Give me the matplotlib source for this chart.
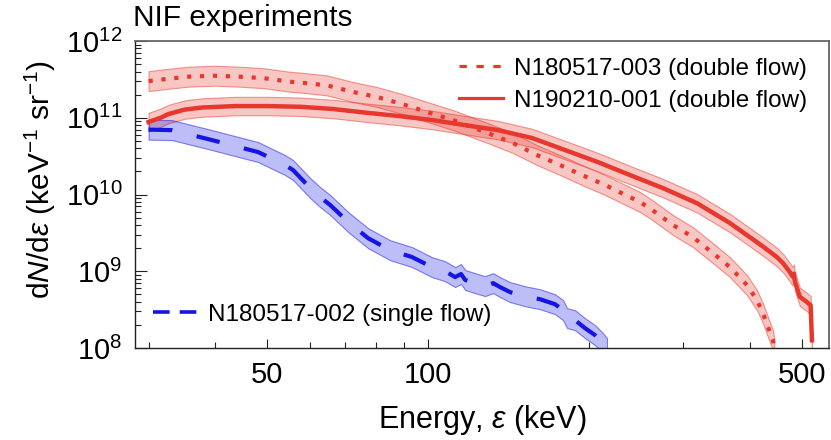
import matplotlib
matplotlib.use("Agg")
import matplotlib.pyplot as plt
import numpy as np
from matplotlib.colors import to_rgba
from matplotlib.lines import Line2D
from matplotlib.ticker import FixedFormatter, FixedLocator, LogLocator, NullFormatter

plt.rcParams["font.family"] = ["Liberation Sans", "DejaVu Sans"]
plt.rcParams["mathtext.fontset"] = "custom"
plt.rcParams["mathtext.rm"] = "Liberation Sans"
plt.rcParams["mathtext.it"] = "Liberation Sans:italic"
plt.rcParams["mathtext.bf"] = "Liberation Sans:bold"

# ---- spectra: energy (keV) vs dN/de (keV^-1 sr^-1) -------------------------
e_003 = [30.0, 32.0, 35.6, 39.8, 44.3, 49.4, 55.0, 58.1, 64.7, 72.1, 80.3,
         89.4, 99.6, 111.4, 129.4, 144.1, 159.9, 176.5, 194.1, 214.2, 236.5,
         249.0, 262.3, 287.1, 312.8, 341.0, 366.9, 394.8, 412.1, 422.9, 432.1,
         441.5, 444.0]
n_003 = [3.0e11, 3.17e11, 3.43e11, 3.53e11, 3.43e11, 3.27e11, 2.95e11,
         2.86e11, 2.64e11, 2.18e11, 1.86e11, 1.51e11, 1.19e11, 9.3e10, 6.3e10,
         4.68e10, 3.26e10, 2.42e10, 1.79e10, 1.33e10, 9.5e9, 8.0e9, 6.3e9,
         4.0e9, 2.78e9, 1.72e9, 1.13e9, 6.6e8, 4.2e8, 2.84e8, 1.87e8, 1.26e8,
         1.0e8]

e_001 = [30.0, 31.6, 32.7, 35.1, 37.8, 43.6, 50.2, 57.6, 66.4, 76.9, 88.6,
         102.2, 117.3, 135.1, 156.5, 180.4, 207.8, 238.6, 275.0, 318.3, 366.9,
         422.9, 448.4, 460.9, 475.0, 480.0, 483.0, 485.3, 495.8, 510.3, 519.2,
         522.2]
n_001 = [8.8e10, 1.0e11, 1.12e11, 1.28e11, 1.36e11, 1.42e11, 1.42e11,
         1.39e11, 1.30e11, 1.16e11, 1.05e11, 9.3e10, 8.0e10, 6.9e10, 5.44e10,
         3.79e10, 2.64e10, 1.79e10, 1.21e10, 7.7e9, 4.24e9, 2.1e9, 1.54e9,
         1.28e9, 9.7e8, 8.6e8, 9.3e8, 7.3e8, 4.64e8, 4.0e8, 3.6e8, 1.26e8]

e_002 = [30.0, 33.2, 39.5, 48.1, 54.0, 55.9, 60.2, 62.8, 65.6, 70.9, 77.2,
         84.9, 93.3, 101.7, 107.6, 112.3, 115.2, 117.3, 122.4, 127.8, 132.3,
         136.4, 142.3, 151.8, 161.9, 172.7, 178.8, 181.9, 188.3, 196.6, 205.2,
         212.3, 216.0]
n_002 = [7.0e10, 6.9e10, 5.1e10, 3.57e10, 2.42e10, 2.08e10, 1.21e10, 9.25e9,
         7.28e9, 4.37e9, 2.70e9, 1.88e9, 1.53e9, 1.13e9, 1.0e9, 8.4e8, 9.2e8,
         7.7e8, 7.0e8, 6.4e8, 7.0e8, 6.2e8, 5.35e8, 4.73e8, 4.32e8, 3.72e8,
         3.11e8, 2.45e8, 2.30e8, 1.81e8, 1.47e8, 1.16e8, 1.0e8]

# uncertainty half-width of each shaded band, in decades
band_003 = 0.13
band_001 = 0.12
band_002 = 0.13

label_003 = "N180517-003 (double flow)"
label_001 = "N190210-001 (double flow)"
label_002 = "N180517-002 (single flow)"

x_major = [50, 100, 500]
x_major_labels = ["50", "100", "500"]
x_minor = [30, 40, 60, 70, 80, 90, 200, 300, 400]

RED = "#E8372C"
BLUE = "#1414E6"


def band(ax, e, n, dex, color):
    n = np.asarray(n)
    ax.fill_between(e, n / 10 ** dex, n * 10 ** dex,
                    facecolor=to_rgba(color, 0.28),
                    edgecolor=to_rgba(color, 0.5), linewidth=0.8)


fig = plt.figure(figsize=(8.31, 4.40), dpi=100)
ax = fig.add_axes([0.1625, 0.2091, 0.8351, 0.6977])
ax.set_xscale("log")
ax.set_yscale("log")

band(ax, e_003, n_003, band_003, RED)
band(ax, e_001, n_001, band_001, RED)
band(ax, e_002, n_002, band_002, BLUE)

ax.plot(e_003, n_003, color=RED, lw=3.0, dashes=(1.0, 2.1), dash_capstyle="butt")
ax.plot(e_001, n_001, color=RED, lw=3.2)
ax.plot(e_002, n_002, color=BLUE, lw=3.0, dashes=(5.7, 6.0), dash_capstyle="butt")

ax.set_xlim(28.3, 562)
ax.set_ylim(1e8, 1e12)

# ---- ticks ------------------------------------------------------------------
ax.xaxis.set_major_locator(FixedLocator(x_major))
ax.xaxis.set_major_formatter(FixedFormatter(x_major_labels))
ax.xaxis.set_minor_locator(FixedLocator(x_minor))
ax.xaxis.set_minor_formatter(NullFormatter())
ax.yaxis.set_major_locator(LogLocator(base=10, numticks=10))
ax.yaxis.set_minor_locator(LogLocator(base=10, subs=range(2, 10), numticks=10))
ax.yaxis.set_minor_formatter(NullFormatter())

ax.tick_params(which="both", direction="in", top=False, right=False,
               color="#222222", width=0.8)
ax.tick_params(axis="x", which="major", length=6.5, labelsize=21, pad=9.5)
ax.tick_params(axis="x", which="minor", length=4.3)
ax.tick_params(axis="y", which="major", length=8.6, labelsize=21, pad=9)
ax.tick_params(axis="y", which="minor", length=4.3)

for side in ("left", "bottom"):
    ax.spines[side].set_color("#222222")
    ax.spines[side].set_linewidth(1.0)
for side in ("top", "right"):
    ax.spines[side].set_color("#666666")
    ax.spines[side].set_linewidth(1.3)

# ---- labels -----------------------------------------------------------------
ax.set_xlabel("Energy, $\\varepsilon$ (keV)", fontsize=22, va="baseline")
ax.xaxis.set_label_coords(0.5, -0.262)
ax.set_ylabel("d$N$/d$\\varepsilon$ (keV$^{-1}$ sr$^{-1}$)", fontsize=21.5,
              va="baseline")
ax.yaxis.set_label_coords(-0.1225, 0.5505)
fig.text(133 / 831, 1 - 26 / 440, "NIF experiments", fontsize=21.5,
         ha="left", va="baseline")

# legend keys use a shorter dash rhythm than the curves
key_003 = Line2D([], [], color=RED, lw=2.3, dashes=(2.3, 3.0), dash_capstyle="butt")
key_001 = Line2D([], [], color=RED, lw=2.3)
key_002 = Line2D([], [], color=BLUE, lw=2.6, dashes=(4.6, 2.8), dash_capstyle="butt")

leg = ax.legend([key_003, key_001], [label_003, label_001], loc="upper right",
                bbox_to_anchor=(0.968, 0.946), frameon=False, fontsize=17.5,
                handlelength=1.85, handletextpad=0.42, labelspacing=0.42,
                borderpad=0, borderaxespad=0)
ax.add_artist(leg)
ax.legend([key_002], [label_002], loc="lower left",
          bbox_to_anchor=(0.026, 0.072), frameon=False, fontsize=17.5,
          handlelength=1.85, handletextpad=0.42, borderpad=0, borderaxespad=0)

fig.savefig("out.png", dpi=100)
